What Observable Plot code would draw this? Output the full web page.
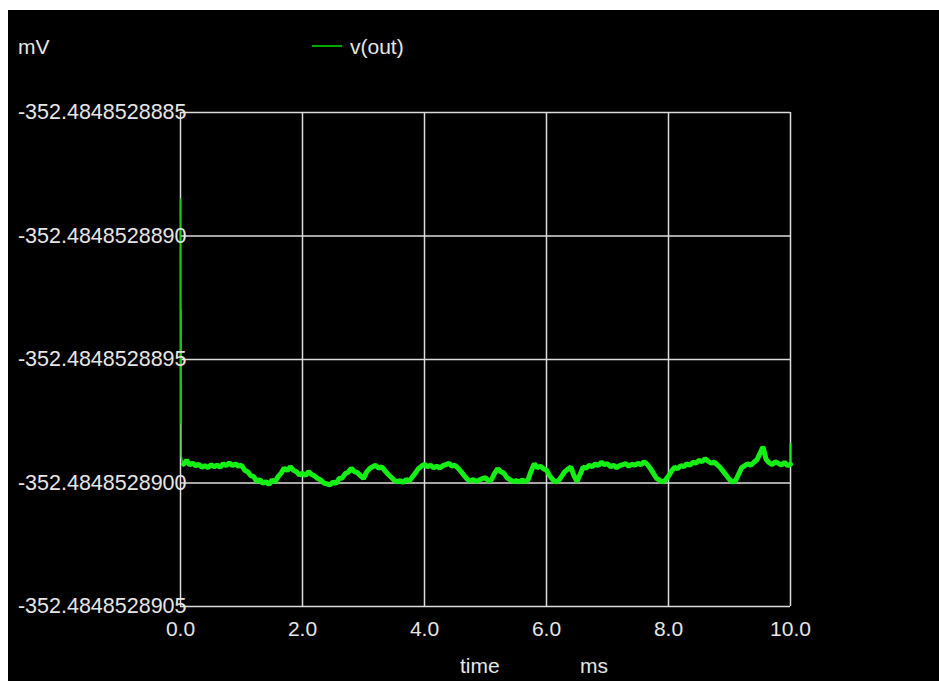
<!DOCTYPE html>
<html>
<head>
<meta charset="utf-8">
<script src="https://cdn.jsdelivr.net/npm/d3@7"></script>
<script src="https://cdn.jsdelivr.net/npm/@observablehq/plot@0.6"></script>
<style>
  html, body { margin: 0; padding: 0; background: #ffffff; }
  #page { position: relative; width: 939px; height: 681px; overflow: hidden; }
  #bg { position: absolute; left: 8px; top: 10px; width: 931px; height: 671px; background: #000; }
  #chart { position: absolute; left: 0; top: 0; }
  .lbl { position: absolute; color: #e6e6e6; font-family: "Liberation Sans", Arial, sans-serif; font-size: 21px; line-height: 24px; white-space: nowrap; }
  #legline { position: absolute; left: 312px; top: 45px; width: 30px; height: 2px; background: #00a800; }
</style>
</head>
<body>
<div id="page">
  <div id="bg"></div>
  <div id="chart"></div>
  <div class="lbl" style="left:18px; top:35px;">mV</div>
  <div id="legline"></div>
  <div class="lbl" id="legtext" style="left:350px; top:35px;"></div>
  <div class="lbl" id="xlab1" style="left:460px; top:654px;"></div>
  <div class="lbl" id="xlab2" style="left:580px; top:654px;"></div>
</div>
<script>
// Series name and axis names
const seriesName = "v(out)";
const yUnit = "mV";
const xName = "time";
const xUnit = "ms";

// Values are offsets in units of 1e-10 mV from the base level below
const baseLabel = "-352.48485289";

// Start-up transient of v(out): time (ms) and offsets (x 1e-10 mV)
const spikeTimeMs = [0, 0.004, 0.008, 0.012, 0.03, 0.05];
const spikeVOut = [11.5, 2.4, 7.0, 1.1, 0.85, 0.76];

// Time axis (ms) of the steady part
const timeMs = [
  0.05, 0.10, 0.15, 0.20, 0.25, 0.30, 0.35, 0.40, 0.45, 0.50,
  0.55, 0.60, 0.65, 0.70, 0.75, 0.80, 0.85, 0.90, 0.95, 1.00,
  1.05, 1.10, 1.15, 1.20, 1.25, 1.30, 1.35, 1.40, 1.45, 1.50,
  1.55, 1.60, 1.65, 1.70, 1.75, 1.80, 1.85, 1.90, 1.95, 2.00,
  2.05, 2.10, 2.15, 2.20, 2.25, 2.30, 2.35, 2.40, 2.45, 2.50,
  2.55, 2.60, 2.65, 2.70, 2.75, 2.80, 2.85, 2.90, 2.95, 3.00,
  3.05, 3.10, 3.15, 3.20, 3.25, 3.30, 3.35, 3.40, 3.45, 3.50,
  3.55, 3.60, 3.65, 3.70, 3.75, 3.80, 3.85, 3.90, 3.95, 4.00,
  4.05, 4.10, 4.15, 4.20, 4.25, 4.30, 4.35, 4.40, 4.45, 4.50,
  4.55, 4.60, 4.65, 4.70, 4.75, 4.80, 4.85, 4.90, 4.95, 5.00,
  5.05, 5.10, 5.15, 5.20, 5.25, 5.30, 5.35, 5.40, 5.45, 5.50,
  5.55, 5.60, 5.65, 5.70, 5.75, 5.80, 5.85, 5.90, 5.95, 6.00,
  6.05, 6.10, 6.15, 6.20, 6.25, 6.30, 6.35, 6.40, 6.45, 6.50,
  6.55, 6.60, 6.65, 6.70, 6.75, 6.80, 6.85, 6.90, 6.95, 7.00,
  7.05, 7.10, 7.15, 7.20, 7.25, 7.30, 7.35, 7.40, 7.45, 7.50,
  7.55, 7.60, 7.65, 7.70, 7.75, 7.80, 7.85, 7.90, 7.95, 8.00,
  8.05, 8.10, 8.15, 8.20, 8.25, 8.30, 8.35, 8.40, 8.45, 8.50,
  8.55, 8.60, 8.65, 8.70, 8.75, 8.80, 8.85, 8.90, 8.95, 9.00,
  9.05, 9.10, 9.15, 9.20, 9.25, 9.30, 9.35, 9.40, 9.45, 9.50,
  9.55, 9.60, 9.65, 9.70, 9.75, 9.80, 9.85, 9.90, 9.95, 10.00];

// v(out) offsets (x 1e-10 mV)
const vOut = [
  0.76, 0.92, 0.74, 0.80, 0.70, 0.76, 0.64, 0.70, 0.62, 0.74,
  0.66, 0.72, 0.64, 0.78, 0.70, 0.82, 0.70, 0.78, 0.68, 0.72,
  0.52, 0.46, 0.30, 0.26, 0.06, 0.14, -0.02, 0.06, -0.06, 0.12,
  0.04, 0.26, 0.40, 0.60, 0.50, 0.66, 0.52, 0.46, 0.32, 0.40,
  0.30, 0.46, 0.34, 0.28, 0.18, 0.12, 0.00, -0.04, -0.08, 0.04,
  -0.02, 0.18, 0.20, 0.38, 0.44, 0.60, 0.46, 0.42, 0.30, 0.18,
  0.44, 0.58, 0.66, 0.72, 0.60, 0.66, 0.50, 0.36, 0.24, 0.12,
  0.04, 0.10, 0.02, 0.14, 0.08, 0.24, 0.40, 0.58, 0.68, 0.76,
  0.66, 0.72, 0.62, 0.68, 0.60, 0.70, 0.74, 0.80, 0.68, 0.72,
  0.60, 0.46, 0.30, 0.16, 0.08, 0.14, 0.06, 0.12, 0.18, 0.22,
  0.08, 0.14, 0.40, 0.58, 0.46, 0.40, 0.22, 0.14, 0.06, 0.10,
  0.04, 0.12, 0.06, 0.14, 0.50, 0.78, 0.62, 0.68, 0.58, 0.52,
  0.30, 0.14, 0.04, 0.10, 0.28, 0.46, 0.56, 0.64, 0.30, 0.06,
  0.34, 0.64, 0.60, 0.72, 0.66, 0.78, 0.70, 0.84, 0.74, 0.78,
  0.66, 0.72, 0.62, 0.70, 0.74, 0.78, 0.68, 0.76, 0.72, 0.80,
  0.74, 0.86, 0.76, 0.60, 0.40, 0.20, 0.12, 0.04, 0.12, 0.28,
  0.48, 0.64, 0.58, 0.70, 0.66, 0.78, 0.72, 0.84, 0.80, 0.92,
  0.86, 0.98, 0.88, 0.80, 0.84, 0.74, 0.62, 0.46, 0.30, 0.14,
  0.04, 0.10, 0.36, 0.62, 0.70, 0.78, 0.72, 0.84, 0.94, 1.20,
  1.46, 0.96, 0.82, 0.74, 0.86, 0.80, 0.72, 0.84, 0.70, 0.76];

// Final step at 10.0 ms
const endTimeMs = [10.0, 10.0];
const endVOut = [0.76, 1.58];

// Axis ticks and labels
const xTicks = [0, 2, 4, 6, 8, 10];
const xTickLabels = ["0.0", "2.0", "4.0", "6.0", "8.0", "10.0"];
const yTicks = [15, 10, 5, 0, -5];
const yTickLabels = ["-352.4848528885", "-352.4848528890", "-352.4848528895", "-352.4848528900", "-352.4848528905"];

const spike = spikeTimeMs.map((t, i) => ({t, v: spikeVOut[i]}));
const data = timeMs.map((t, i) => ({t, v: vOut[i]}));
const tail = endTimeMs.map((t, i) => ({t, v: endVOut[i]}));

document.getElementById("legtext").textContent = seriesName;
document.getElementById("xlab1").textContent = xName;
document.getElementById("xlab2").textContent = xUnit;

const gridColor = "#dcdcdc";
const chart = Plot.plot({
  width: 939,
  height: 681,
  marginLeft: 180,
  marginRight: 149,
  marginTop: 112,
  marginBottom: 75,
  style: {background: "transparent", color: "#e6e6e6", fontFamily: "'Liberation Sans', Arial, sans-serif", fontSize: "21px", overflow: "visible"},
  x: {domain: [0, 10], axis: null},
  y: {domain: [-5, 15], axis: null},
  marks: [
    Plot.ruleX(xTicks, {x: d => d, stroke: gridColor, strokeWidth: 1.5}),
    Plot.ruleY(yTicks, {y: d => d, stroke: gridColor, strokeWidth: 1.5}),
    Plot.line(spike, {x: "t", y: "v", stroke: "#10d010", strokeWidth: 1.6}),
    Plot.line(data, {x: "t", y: "v", stroke: "#14f014", strokeWidth: 5, strokeLinejoin: "miter"}),
    Plot.line(tail, {x: "t", y: "v", stroke: "#14f014", strokeWidth: 2}),
    Plot.text(yTicks, {y: d => d, text: (d, i) => yTickLabels[i], frameAnchor: "left", textAnchor: "end", dx: 6, fill: "#e6e6e6", fontSize: 21.5}),
    Plot.text(xTicks, {x: d => d, text: (d, i) => xTickLabels[i], frameAnchor: "bottom", dy: 29, fill: "#e6e6e6", fontSize: 21})
  ]
});
document.getElementById("chart").appendChild(chart);
</script>
</body>
</html>
